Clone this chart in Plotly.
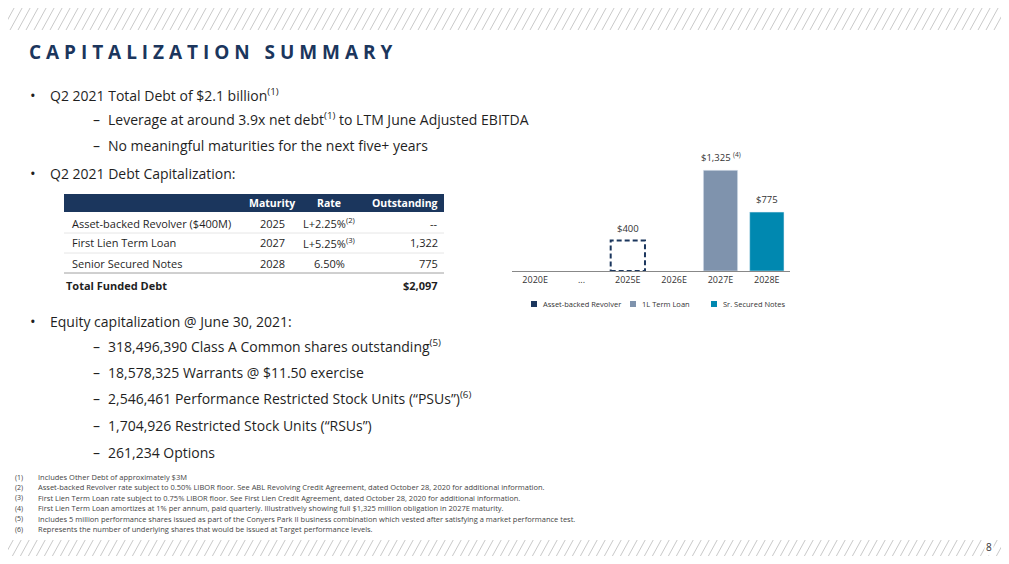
import plotly.graph_objects as go

W, H = 1009, 564
OFF = 8  # page body margin

years = ["2020E", "...", "2025E", "2026E", "2027E", "2028E"]
revolver = [None, None, 400, None, None, None]
term_loan = [None, None, None, None, 1325, None]
secured = [None, None, None, None, None, 775]
series_names = ["Asset-backed Revolver", "1L Term Loan", "Sr. Secured Notes"]
series_colors = ["#1b365d", "#7f93ad", "#0088b0"]
bar_labels = {"2025E": "$400", "2027E": "$1,325 <sup>(4)</sup>", "2028E": "$775"}

table_header = ["Maturity", "Rate", "Outstanding"]
table_rows = [
    ["Asset-backed Revolver ($400M)", "2025", "L+2.25%<sup>(2)</sup>", "--"],
    ["First Lien Term Loan", "2027", "L+5.25%<sup>(3)</sup>", "1,322"],
    ["Senior Secured Notes", "2028", "6.50%", "775"],
]
table_total = ["Total Funded Debt", "$2,097"]

bullets = [
    ("b", 95, "Q2 2021 Total Debt of $2.1 billion<sup>(1)</sup>"),
    ("d", 119, "Leverage at around 3.9x net debt<sup>(1)</sup> to LTM June Adjusted EBITDA"),
    ("d", 145, "No meaningful maturities for the next five+ years"),
    ("b", 173, "Q2 2021 Debt Capitalization:"),
    ("b", 321, "Equity capitalization @ June 30, 2021:"),
    ("d", 346, "318,496,390 Class A Common shares outstanding<sup>(5)</sup>"),
    ("d", 372, "18,578,325 Warrants @ $11.50 exercise"),
    ("d", 398, "2,546,461 Performance Restricted Stock Units (“PSUs”)<sup>(6)</sup>"),
    ("d", 425, "1,704,926 Restricted Stock Units (“RSUs”)"),
    ("d", 452, "261,234 Options"),
]

footnotes = [
    "Includes Other Debt of approximately $3M",
    "Asset-backed Revolver rate subject to 0.50% LIBOR floor. See ABL Revolving Credit Agreement, dated October 28, 2020 for additional information.",
    "First Lien Term Loan rate subject to 0.75% LIBOR floor. See First Lien Credit Agreement, dated October 28, 2020 for additional information.",
    "First Lien Term Loan amortizes at 1% per annum, paid quarterly. Illustratively showing full $1,325 million obligation in 2027E maturity.",
    "Includes 5 million performance shares issued as part of the Conyers Park II business combination which vested after satisfying a market performance test.",
    "Represents the number of underlying shares that would be issued at Target performance levels.",
]

NAVY = "#1b365d"
TXT = "#1f1f1f"
FONT = "Open Sans"
FW, FH = W - 2 * OFF, H - 2 * OFF


def px(x):
    return (x - OFF) / FW


def py(y):
    return 1 - (y - OFF) / FH


fig = go.Figure()
fig.add_trace(go.Bar(x=years, y=term_loan, name=series_names[1],
                     marker_color=series_colors[1], width=0.74))
fig.add_trace(go.Bar(x=years, y=secured, name=series_names[2],
                     marker_color=series_colors[2], width=0.74))

shapes = []
annos = []

# dashed revolver box
for i, v in enumerate(revolver):
    if v is not None:
        shapes.append(dict(type="rect", xref="x", yref="y", x0=i - 0.37, x1=i + 0.37,
                           y0=0, y1=v, line=dict(color=series_colors[0], width=2, dash="5px,3px")))

# bar labels
for i, yr in enumerate(years):
    vals = [s[i] for s in (revolver, term_loan, secured) if s[i] is not None]
    if vals:
        annos.append(dict(x=yr, y=vals[0], xref="x", yref="y", text=bar_labels[yr],
                          showarrow=False, yanchor="bottom", yshift=4,
                          font=dict(size=9.5, color="#333", family=FONT)))

# legend
for name, col, lx in zip(series_names, series_colors, (531, 630, 711)):
    shapes.append(dict(type="rect", xref="paper", yref="paper", x0=px(lx), x1=px(lx + 6),
                       y0=py(307), y1=py(301), fillcolor=col, line_width=0))
    annos.append(dict(x=px(lx + 10), y=py(304), xref="paper", yref="paper", xanchor="left",
                      yanchor="middle", text=name, showarrow=False,
                      font=dict(size=7.5, color="#333", family=FONT)))

# hatch bands top and bottom
for y0, y1 in ((0, 30), (540, 564)):
    h = y1 - y0
    x = -h
    while x < W:
        shapes.append(dict(type="line", xref="paper", yref="paper",
                           x0=px(x), y0=py(y1), x1=px(x + h * 0.55), y1=py(y0),
                           line=dict(color="#c9c9c9", width=1)))
        x += 8

# title
annos.append(dict(x=px(27), y=py(52), xref="paper", yref="paper", xanchor="left", yanchor="middle",
                  text="<b>C A P I T A L I Z A T I O N   S U M M A R Y</b>", showarrow=False,
                  font=dict(size=19, color=NAVY, family=FONT)))

# bullets
for kind, y, t in bullets:
    if kind == "b":
        mx, tx, m, ms = 28, 48, "•", 15
    else:
        mx, tx, m, ms = 91, 106, "–", 14
    annos.append(dict(x=px(mx), y=py(y), xref="paper", yref="paper", xanchor="left", yanchor="middle",
                      text=m, showarrow=False, font=dict(size=ms, color=TXT, family=FONT)))
    annos.append(dict(x=px(tx), y=py(y), xref="paper", yref="paper", xanchor="left", yanchor="middle",
                      text=t, showarrow=False, font=dict(size=14, color=TXT, family=FONT)))

# table
shapes.append(dict(type="rect", xref="paper", yref="paper", x0=px(64), x1=px(444),
                   y0=py(212), y1=py(194), fillcolor=NAVY, line_width=0))
hx = [(272, "center"), (329, "center"), (440, "right")]
for (x, anc), t in zip(hx, table_header):
    annos.append(dict(x=px(x), y=py(203), xref="paper", yref="paper", xanchor=anc, yanchor="middle",
                      text="<b>%s</b>" % t, showarrow=False, font=dict(size=10.5, color="white", family=FONT)))
cols = [(70, "left"), (272, "center"), (329, "center"), (440, "right")]
for r, row in enumerate(table_rows):
    y = 223 + 20 * r
    for (x, anc), t in zip(cols, row):
        annos.append(dict(x=px(x), y=py(y), xref="paper", yref="paper", xanchor=anc, yanchor="middle",
                          text=t, showarrow=False, font=dict(size=11, color=TXT, family=FONT)))
    if r < 2:
        shapes.append(dict(type="line", xref="paper", yref="paper", x0=px(64), x1=px(444),
                           y0=py(y + 10), y1=py(y + 10), line=dict(color="#e6e6e6", width=1)))
shapes.append(dict(type="line", xref="paper", yref="paper", x0=px(64), x1=px(444),
                   y0=py(273), y1=py(273), line=dict(color="#a0a0a0", width=1)))
annos.append(dict(x=px(64), y=py(285), xref="paper", yref="paper", xanchor="left", yanchor="middle",
                  text="<b>%s</b>" % table_total[0], showarrow=False, font=dict(size=11, color=TXT, family=FONT)))
annos.append(dict(x=px(440), y=py(285), xref="paper", yref="paper", xanchor="right", yanchor="middle",
                  text="<b>%s</b>" % table_total[1], showarrow=False, font=dict(size=11, color=TXT, family=FONT)))

# footnotes
for i, t in enumerate(footnotes):
    y = 477 + 10.4 * i
    annos.append(dict(x=px(13), y=py(y), xref="paper", yref="paper", xanchor="left", yanchor="middle",
                      text="(%d)" % (i + 1), showarrow=False, font=dict(size=7, color="#444", family=FONT)))
    annos.append(dict(x=px(36), y=py(y), xref="paper", yref="paper", xanchor="left", yanchor="middle",
                      text=t, showarrow=False, font=dict(size=7.5, color="#444", family=FONT)))

annos.append(dict(x=px(994), y=py(547), xref="paper", yref="paper", xanchor="right", yanchor="middle",
                  text="8", showarrow=False, font=dict(size=10, color="#333", family=FONT),
                  bgcolor="white"))

fig.update_layout(
    width=FW, height=FH, margin=dict(l=0, r=0, t=0, b=0),
    paper_bgcolor="white", plot_bgcolor="white",
    barmode="overlay", showlegend=False,
    xaxis=dict(domain=[px(512), px(790)], type="category", showline=True, linecolor="#888",
               tickfont=dict(size=9, color="#333", family=FONT), ticks="", showgrid=False),
    yaxis=dict(domain=[py(271), py(157)], range=[0, 1500], visible=False, showgrid=False),
    shapes=shapes, annotations=annos,
)

fig.write_html("out.html")
